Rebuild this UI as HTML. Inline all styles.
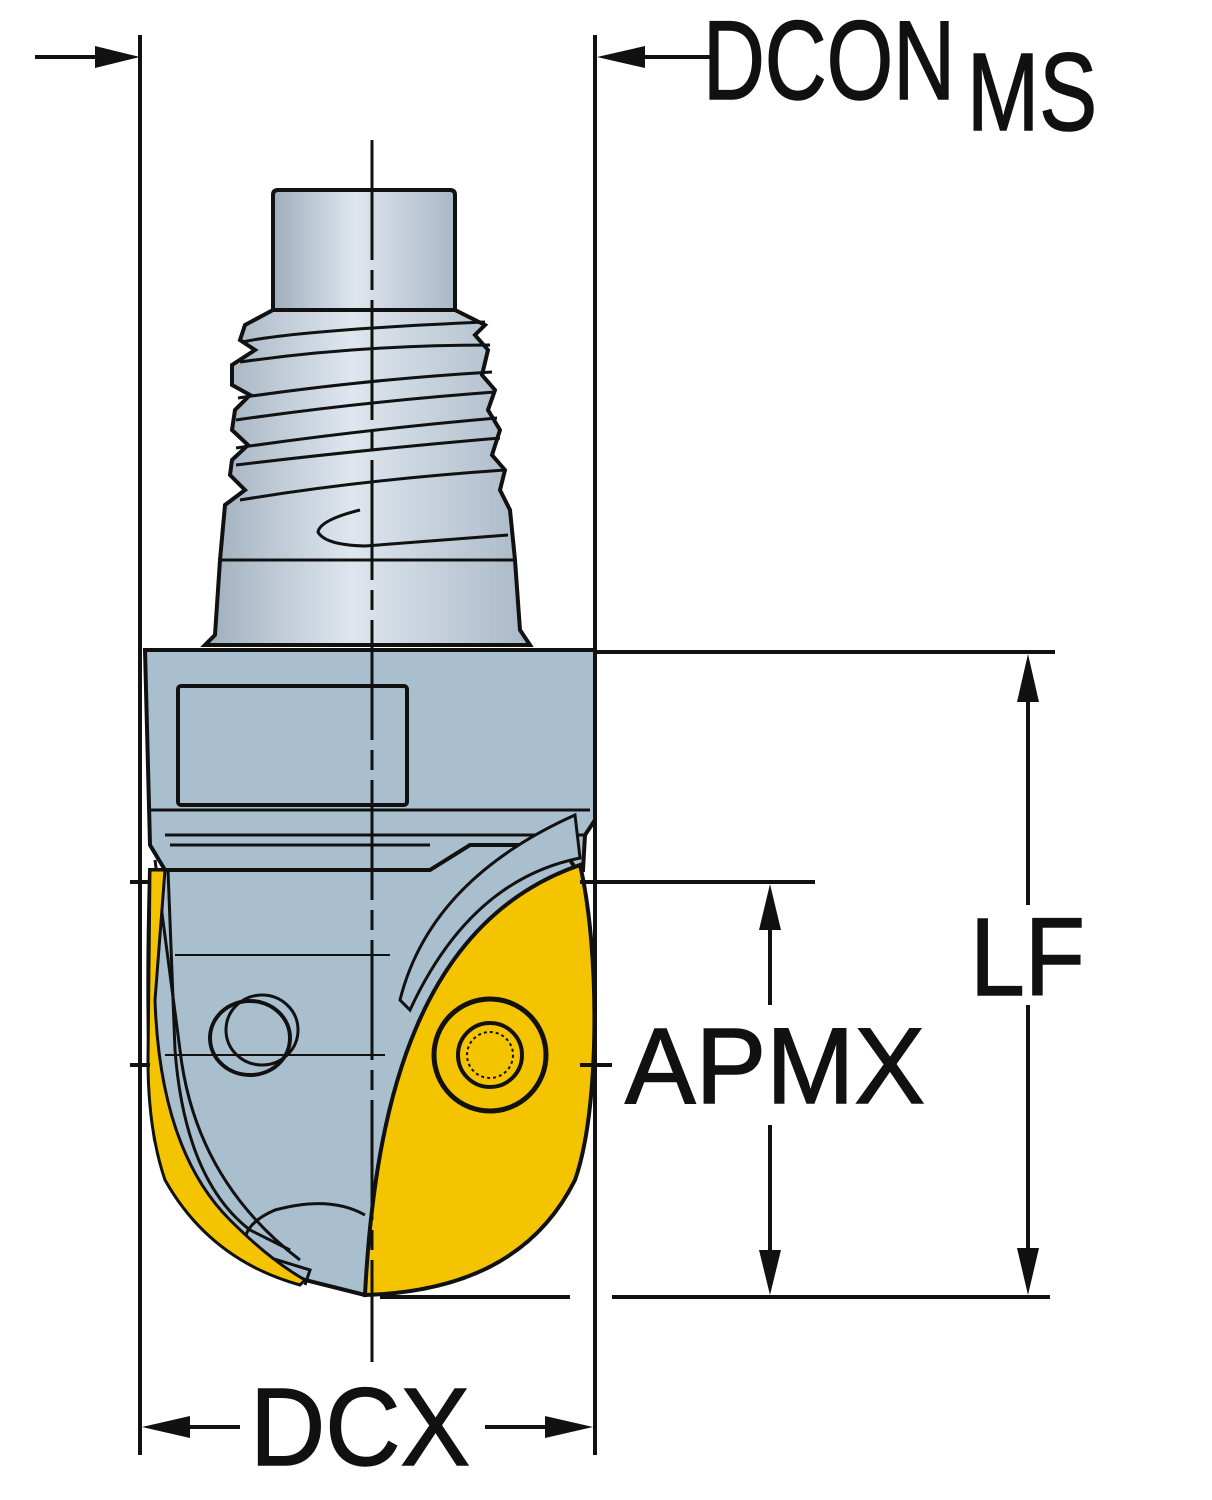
<!DOCTYPE html>
<html><head><meta charset="utf-8"><style>html,body{margin:0;padding:0;background:#fff}svg{display:block}</style></head>
<body>
<svg width="1212" height="1500" viewBox="0 0 1212 1500" xmlns="http://www.w3.org/2000/svg">
<defs>
<linearGradient id="sh" x1="0" x2="1" y1="0" y2="0">
<stop offset="0" stop-color="#9eaebd"/><stop offset="0.45" stop-color="#dfe6ee"/><stop offset="1" stop-color="#a9b8c7"/>
</linearGradient>
</defs>
<g fill="none" stroke="#111" stroke-width="4">
<path d="M273,195 Q273,190 278,190 L450,190 Q455,190 455,195 L455,310 L273,310 Z" fill="url(#sh)"/>
<path d="M273,310 L245,325 L240,340 L255,350 L232,365 L232,385 L250,395 L235,410 L232,430 L248,445 L232,460 L230,475 L245,490 L225,505 L220,560 L215,635 L205,645 L530,645 L520,630 L515,560 L510,510 L500,490 L505,470 L492,455 L500,430 L488,410 L495,390 L482,375 L488,350 L475,335 L485,325 L455,310 Z" fill="url(#sh)"/>
<path d="M242,342 Q300,330 485,322" stroke-width="3"/>
<path d="M240,362 Q360,345 490,345" stroke-width="3"/>
<path d="M238,398 Q360,380 492,372" stroke-width="3"/>
<path d="M236,420 Q360,402 495,392" stroke-width="3"/>
<path d="M236,448 Q360,430 497,418" stroke-width="3"/>
<path d="M236,465 Q360,450 500,438" stroke-width="3"/>
<path d="M240,500 Q360,480 505,470" stroke-width="3"/>
<path d="M360,510 Q320,520 318,532 Q325,545 365,546 L508,535" stroke-width="3"/>
<line x1="218" y1="560" x2="515" y2="560" stroke-width="3"/>
<path d="M145,650 L595,650 L595,820 L585,835 L583,870 L165,870 L150,845 Z" fill="#a9bfce"/>
<rect x="178" y="686" width="229" height="119" rx="3"/>
<path d="M150,810 L590,810 M165,835 L585,835 M170,845 L430,845" stroke-width="3"/>
<path d="M150,870 L165,870 L430,870 L470,845 L560,845 L578,872 L365,1295 L305,1280 Q200,1240 155,1140 Q145,1060 150,870 Z" fill="#a9bfce"/>
<path d="M168,870 L175,1050 Q185,1180 250,1230 L290,1250" stroke-width="3"/>
<path d="M155,860 L180,1050 Q195,1180 300,1260" stroke-width="3"/>
<line x1="175" y1="955" x2="390" y2="955" stroke-width="2"/>
<line x1="165" y1="1055" x2="385" y2="1055" stroke-width="2"/>
<ellipse cx="250" cy="1038" rx="40" ry="37" stroke-width="4"/>
<ellipse cx="262" cy="1030" rx="36" ry="35" stroke-width="3"/>
<path d="M245,1250 Q240,1225 275,1210 Q330,1195 365,1215" stroke-width="3"/>
<path d="M245,1250 L310,1270 L305,1285" stroke-width="3"/>
<path d="M400,1000 Q430,880 575,815 L580,858 Q470,880 410,1010 Z" fill="#a9bfce" stroke-width="3"/>
<path d="M150,870 L165,870 L155,1000 Q160,1150 230,1220 Q270,1260 305,1280 L300,1285 Q210,1260 165,1180 Q148,1130 148,1060 Z" fill="#f5c400" stroke-width="3"/>
<path d="M365,1295 C375,1100 420,920 580,865 C600,950 600,1110 575,1180 C535,1260 460,1292 365,1295 Z" fill="#f5c400"/>
<circle cx="490" cy="1055" r="56" stroke-width="5"/>
<circle cx="490" cy="1055" r="32" stroke-width="4"/>
<circle cx="490" cy="1055" r="23" stroke-width="2" stroke-dasharray="3 3"/>
</g>
<line x1="372" y1="140" x2="372" y2="1362" stroke="#111" stroke-width="3" stroke-dasharray="120 10 20 10"/>
<g stroke="#111" stroke-width="4" fill="none">
<line x1="140" y1="35" x2="140" y2="1455"/>
<line x1="595" y1="35" x2="595" y2="1455"/>
<line x1="35" y1="57" x2="100" y2="57"/>
<line x1="640" y1="57" x2="712" y2="57"/>
<line x1="595" y1="652" x2="1055" y2="652"/>
<line x1="580" y1="882" x2="815" y2="882"/>
<line x1="380" y1="1297" x2="570" y2="1297"/>
<line x1="612" y1="1297" x2="1050" y2="1297"/>
<line x1="770" y1="920" x2="770" y2="1005"/>
<line x1="770" y1="1125" x2="770" y2="1255"/>
<line x1="1028" y1="700" x2="1028" y2="905"/>
<line x1="1028" y1="1005" x2="1028" y2="1250"/>
<line x1="190" y1="1427" x2="240" y2="1427"/>
<line x1="485" y1="1427" x2="545" y2="1427"/>
<line x1="130" y1="882" x2="150" y2="882"/>
<line x1="130" y1="1065" x2="150" y2="1065"/>
<line x1="580" y1="1065" x2="612" y2="1065"/>
</g>
<g fill="#111">
<polygon points="140,57 95,46 95,68"/>
<polygon points="597,57 645,46 645,68"/>
<polygon points="1028,654 1017,702 1039,702"/>
<polygon points="1028,1295 1017,1248 1039,1248"/>
<polygon points="770,884 759,930 781,930"/>
<polygon points="770,1295 759,1250 781,1250"/>
<polygon points="142,1427 190,1416 190,1438"/>
<polygon points="593,1427 545,1416 545,1438"/>
</g>
<g font-family="'Liberation Sans', Arial, sans-serif" fill="#111" stroke="#111" stroke-width="1.5">
<text x="703" y="99" font-size="112" textLength="252" lengthAdjust="spacingAndGlyphs">DCON</text>
<text x="967" y="130" font-size="110" textLength="130" lengthAdjust="spacingAndGlyphs">MS</text>
<text x="625" y="1103" font-size="108" textLength="300" lengthAdjust="spacingAndGlyphs">APMX</text>
<text x="970" y="995" font-size="110" textLength="115" lengthAdjust="spacingAndGlyphs">LF</text>
<text x="250" y="1465" font-size="110" textLength="220" lengthAdjust="spacingAndGlyphs">DCX</text>
</g>
</svg>
</body></html>
